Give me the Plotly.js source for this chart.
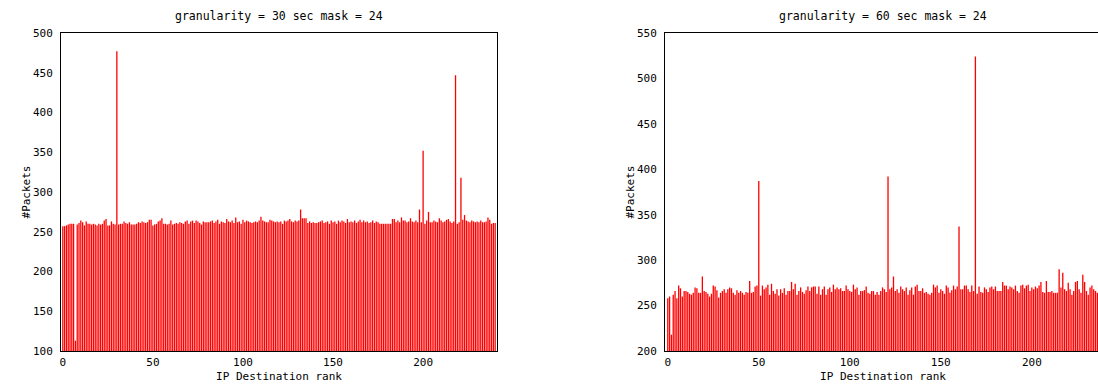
<!DOCTYPE html>
<html>
<head>
<meta charset="utf-8">
<script src="https://cdn.plot.ly/plotly-3.0.1.min.js"></script>
<style>
html,body{margin:0;padding:0;background:#fff;overflow:hidden;}
#chart{width:1105px;height:387px;}
</style>
</head>
<body>
<div id="chart"></div>
<script>
// Left chart: granularity = 30 sec, rank 0..240
const packets30 = [
257,257,258,259,260,260,260,113,259,261,
264,262,258,263,260,260,259,260,259,258,
260,259,260,264,266,258,258,263,260,259,
477,259,260,260,263,261,260,262,259,259,
259,260,262,261,263,262,261,262,265,265,
258,259,260,263,264,267,260,260,259,260,
264,259,260,261,260,262,261,260,263,264,
260,263,264,261,264,263,261,259,263,262,
262,262,263,264,261,263,265,260,263,262,
261,266,263,262,264,261,268,262,263,260,
265,262,264,263,262,261,262,263,262,264,
269,264,263,262,262,265,264,263,262,263,
262,263,260,264,263,264,266,263,262,264,
263,264,278,267,267,267,261,263,261,262,
261,261,262,263,264,261,262,263,260,264,
262,263,260,264,262,264,263,261,266,262,
263,262,264,261,263,265,262,264,262,263,
261,262,264,261,263,262,260,260,260,260,
260,260,260,266,266,262,264,262,268,264,
264,262,263,267,263,262,264,262,278,262,
352,260,264,275,262,262,264,263,262,267,
264,262,263,265,266,263,261,263,447,260,
262,318,265,271,264,263,262,264,263,262,
263,262,264,262,262,263,268,265,260,261,
261
];
// Right chart: granularity = 60 sec
const packets60 = [
258,260,218,262,266,258,272,269,260,266,
266,265,263,262,264,270,269,264,264,282,
266,265,263,260,263,272,271,267,259,264,
266,268,264,268,270,269,264,262,267,264,
266,264,262,265,264,277,264,265,271,272,
387,261,272,268,270,273,262,274,266,263,
268,261,268,264,269,262,266,266,276,268,
274,262,266,270,265,263,267,271,266,270,
271,271,263,271,262,268,271,262,268,270,
265,273,268,270,268,269,266,266,272,268,
266,265,273,268,270,262,266,266,267,271,
264,263,266,266,262,265,262,266,270,268,
265,392,268,270,282,266,268,264,271,268,
266,270,262,267,270,262,271,273,266,266,
269,264,265,263,262,264,273,270,272,264,
268,266,263,272,270,264,267,272,268,271,
337,268,268,272,272,268,265,272,266,524,
263,271,265,264,270,268,265,270,271,268,
271,266,266,266,276,272,272,268,271,270,
268,272,266,264,272,273,269,272,273,266,
270,268,271,269,272,276,265,264,277,265,
265,266,264,264,264,290,270,286,268,266,
275,268,262,266,276,277,268,264,284,276,
266,262,270,272,268,266,264,266,268
];
const ranks30 = packets30.map((_, i) => i);
const ranks60 = packets60.map((_, i) => i);
const title30 = "granularity = 30 sec mask = 24";
const title60 = "granularity = 60 sec mask = 24";
const xTitle = "IP Destination rank";
const yTitle = "#Packets";

const FONT = {family: "DejaVu Sans Mono, monospace", size: 11, color: "#000"};
const TFONT = {family: "DejaVu Sans Mono, monospace", size: 11.5, color: "#000"};

const traces = [
  {type: "bar", x: ranks30, y: packets30, xaxis: "x", yaxis: "y",
   marker: {color: "#ff0000", line: {width: 0}}, hoverinfo: "skip"},
  {type: "bar", x: ranks60, y: packets60, xaxis: "x2", yaxis: "y2",
   marker: {color: "#ff0000", line: {width: 0}}, hoverinfo: "skip"}
];

function xax(domain, anchor, range) {
  return {domain: domain, anchor: anchor, range: range, showgrid: false, zeroline: false,
    showline: true, mirror: true, linecolor: "#000", linewidth: 1, ticks: "",
    tickvals: [0, 50, 100, 150, 200], tickfont: FONT, ticklabelstandoff: 1,
    title: {text: xTitle, font: FONT, standoff: 4}};
}
function yax(range, anchor) {
  return {domain: [0, 1], anchor: anchor, range: range, dtick: 50, showgrid: false, zeroline: false,
    showline: true, mirror: true, linecolor: "#000", linewidth: 1, ticks: "",
    tickfont: FONT, ticklabelstandoff: 5,
    title: {text: yTitle, font: FONT, standoff: 0}};
}

const layout = {
  width: 1105, height: 387,
  margin: {l: 61, r: 4, t: 33, b: 36},
  paper_bgcolor: "#fff", plot_bgcolor: "#fff",
  showlegend: false, bargap: 0.28,
  font: FONT,
  xaxis: xax([0, 0.4192], "y", [-1, 241]),
  yaxis: yax([100, 500], "x"),
  xaxis2: xax([0.5808, 1], "y2", [-1.5, 238]),
  yaxis2: yax([200, 550], "x2"),
  annotations: [
    {text: title30, xref: "x domain", yref: "paper", x: 0.5, y: 1, yshift: 17, showarrow: false, font: TFONT, yanchor: "middle"},
    {text: title60, xref: "x2 domain", yref: "paper", x: 0.5, y: 1, yshift: 17, showarrow: false, font: TFONT, yanchor: "middle"}
  ]
};

Plotly.newPlot("chart", traces, layout, {staticPlot: true, displayModeBar: false});
</script>
</body>
</html>
